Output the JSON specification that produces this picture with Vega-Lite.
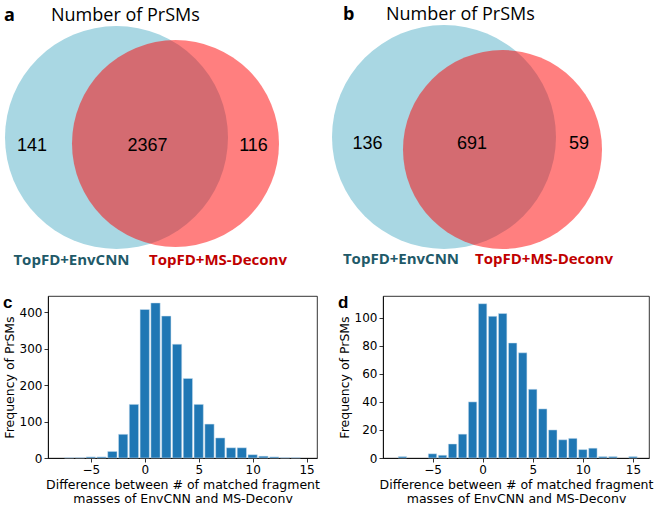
{
  "$schema": "https://vega.github.io/schema/vega-lite/v6.json",
  "padding": {"left": 2, "top": 0, "right": 0, "bottom": 0},
  "autosize": {"type": "pad"},
  "config": {
    "font": "DejaVu Sans",
    "view": {"stroke": "black", "strokeWidth": 0.8},
    "axis": {
      "labelFont": "DejaVu Sans", "labelFontSize": 12, "labelColor": "black",
      "titleFont": "DejaVu Sans", "titleFontSize": 12.5, "titleFontWeight": "normal", "titleColor": "black",
      "domainColor": "black", "domainWidth": 0.8, "tickColor": "black", "tickWidth": 0.8, "tickSize": 4,
      "labelPadding": 2, "grid": false
    }
  },
  "datasets": {
    "venn_a_sets": [
      {"set": "TopFD+EnvCNN", "x": 1.155, "y": 1.475},
      {"set": "TopFD+MS-Deconv", "x": 1.745, "y": 1.415}
    ],
    "venn_a_text": [
      {"kind": "count", "text": "141", "x": 0.31, "y": 1.39},
      {"kind": "count", "text": "2367", "x": 1.465, "y": 1.39},
      {"kind": "count", "text": "116", "x": 2.525, "y": 1.39},
      {"kind": "envcnn", "text": "TopFD+EnvCNN", "x": 0.705, "y": 0.2},
      {"kind": "msdeconv", "text": "TopFD+MS-Deconv", "x": 2.17, "y": 0.2},
      {"kind": "title", "text": "Number of PrSMs", "x": 0.5, "y": 2.64},
      {"kind": "letter", "text": "a", "x": 0.03, "y": 2.64}
    ],
    "venn_b_sets": [
      {"set": "TopFD+EnvCNN", "x": 1.16, "y": 1.48},
      {"set": "TopFD+MS-Deconv", "x": 1.745, "y": 1.355}
    ],
    "venn_b_text": [
      {"kind": "count", "text": "136", "x": 0.395, "y": 1.415},
      {"kind": "count", "text": "691", "x": 1.44, "y": 1.415},
      {"kind": "count", "text": "59", "x": 2.51, "y": 1.415},
      {"kind": "envcnn", "text": "TopFD+EnvCNN", "x": 0.73, "y": 0.21},
      {"kind": "msdeconv", "text": "TopFD+MS-Deconv", "x": 2.16, "y": 0.21},
      {"kind": "title", "text": "Number of PrSMs", "x": 0.58, "y": 2.65},
      {"kind": "letter", "text": "b", "x": 0.15, "y": 2.65}
    ],
    "hist_c": [
      {"diff": -7, "count": 1}, {"diff": -6, "count": 1}, {"diff": -5, "count": 3}, {"diff": -4, "count": 3},
      {"diff": -3, "count": 18}, {"diff": -2, "count": 65}, {"diff": -1, "count": 147}, {"diff": 0, "count": 407},
      {"diff": 1, "count": 425}, {"diff": 2, "count": 389}, {"diff": 3, "count": 312}, {"diff": 4, "count": 218},
      {"diff": 5, "count": 147}, {"diff": 6, "count": 93}, {"diff": 7, "count": 55}, {"diff": 8, "count": 28},
      {"diff": 9, "count": 28}, {"diff": 10, "count": 9}, {"diff": 11, "count": 5}, {"diff": 12, "count": 3},
      {"diff": 13, "count": 1}, {"diff": 14, "count": 1}
    ],
    "hist_d": [
      {"diff": -8, "count": 1}, {"diff": -5, "count": 3}, {"diff": -4, "count": 2}, {"diff": -3, "count": 10},
      {"diff": -2, "count": 17}, {"diff": -1, "count": 40}, {"diff": 0, "count": 110}, {"diff": 1, "count": 101},
      {"diff": 2, "count": 103}, {"diff": 3, "count": 82}, {"diff": 4, "count": 75}, {"diff": 5, "count": 49},
      {"diff": 6, "count": 35}, {"diff": 7, "count": 20}, {"diff": 8, "count": 13}, {"diff": 9, "count": 14},
      {"diff": 10, "count": 6}, {"diff": 11, "count": 7}, {"diff": 12, "count": 1}, {"diff": 13, "count": 1},
      {"diff": 15, "count": 1}
    ]
  },
  "spacing": 8,
  "vconcat": [
    {
      "spacing": 0,
      "hconcat": [
        {
          "width": 280, "height": 285, "view": {"stroke": null},
          "encoding": {
            "x": {"field": "x", "type": "quantitative", "scale": {"domain": [0.47, 3.27], "nice": false, "zero": false}, "axis": null},
            "y": {"field": "y", "type": "quantitative", "scale": {"domain": [0, 2.85], "nice": false, "zero": false}, "axis": null}
          },
          "layer": [
            {"data": {"name": "venn_a_sets"}, "transform": [{"filter": "datum.set === 'TopFD+EnvCNN'"}],
             "mark": {"type": "point", "shape": "circle", "filled": true, "size": 49729, "color": "#a9d7e3", "opacity": 1, "strokeWidth": 0}},
            {"data": {"name": "venn_a_sets"}, "transform": [{"filter": "datum.set === 'TopFD+MS-Deconv'"}],
             "mark": {"type": "point", "shape": "circle", "filled": true, "size": 42849, "color": "#ff0000", "opacity": 0.5, "strokeWidth": 0}},
            {"data": {"name": "venn_a_text"}, "transform": [{"filter": "datum.kind === 'count'"}],
             "mark": {"type": "text", "font": "Liberation Sans", "fontSize": 18, "align": "center", "baseline": "middle", "color": "black"},
             "encoding": {"text": {"field": "text"}}},
            {"data": {"name": "venn_a_text"}, "transform": [{"filter": "datum.kind === 'envcnn'"}],
             "mark": {"type": "text", "font": "Open Sans", "fontSize": 15, "fontWeight": "bold", "align": "center", "baseline": "alphabetic", "color": "#215968"},
             "encoding": {"text": {"field": "text"}}},
            {"data": {"name": "venn_a_text"}, "transform": [{"filter": "datum.kind === 'msdeconv'"}],
             "mark": {"type": "text", "font": "Open Sans", "fontSize": 15, "fontWeight": "bold", "align": "center", "baseline": "alphabetic", "color": "#c00000"},
             "encoding": {"text": {"field": "text"}}},
            {"data": {"name": "venn_a_text"}, "transform": [{"filter": "datum.kind === 'title'"}],
             "mark": {"type": "text", "font": "Open Sans", "fontSize": 18, "align": "left", "baseline": "alphabetic", "color": "black"},
             "encoding": {"text": {"field": "text"}}},
            {"data": {"name": "venn_a_text"}, "transform": [{"filter": "datum.kind === 'letter'"}],
             "mark": {"type": "text", "font": "Open Sans", "fontSize": 18, "fontWeight": "bold", "align": "left", "baseline": "alphabetic", "color": "black"},
             "encoding": {"text": {"field": "text"}}}
          ]
        },
        {
          "width": 327, "height": 285, "view": {"stroke": null},
          "encoding": {
            "x": {"field": "x", "type": "quantitative", "scale": {"domain": [0, 3.27], "nice": false, "zero": false}, "axis": null},
            "y": {"field": "y", "type": "quantitative", "scale": {"domain": [0, 2.85], "nice": false, "zero": false}, "axis": null}
          },
          "layer": [
            {"data": {"name": "venn_b_sets"}, "transform": [{"filter": "datum.set === 'TopFD+EnvCNN'"}],
             "mark": {"type": "point", "shape": "circle", "filled": true, "size": 50176, "color": "#a9d7e3", "opacity": 1, "strokeWidth": 0}},
            {"data": {"name": "venn_b_sets"}, "transform": [{"filter": "datum.set === 'TopFD+MS-Deconv'"}],
             "mark": {"type": "point", "shape": "circle", "filled": true, "size": 39601, "color": "#ff0000", "opacity": 0.5, "strokeWidth": 0}},
            {"data": {"name": "venn_b_text"}, "transform": [{"filter": "datum.kind === 'count'"}],
             "mark": {"type": "text", "font": "Liberation Sans", "fontSize": 18, "align": "center", "baseline": "middle", "color": "black"},
             "encoding": {"text": {"field": "text"}}},
            {"data": {"name": "venn_b_text"}, "transform": [{"filter": "datum.kind === 'envcnn'"}],
             "mark": {"type": "text", "font": "Open Sans", "fontSize": 15, "fontWeight": "bold", "align": "center", "baseline": "alphabetic", "color": "#215968"},
             "encoding": {"text": {"field": "text"}}},
            {"data": {"name": "venn_b_text"}, "transform": [{"filter": "datum.kind === 'msdeconv'"}],
             "mark": {"type": "text", "font": "Open Sans", "fontSize": 15, "fontWeight": "bold", "align": "center", "baseline": "alphabetic", "color": "#c00000"},
             "encoding": {"text": {"field": "text"}}},
            {"data": {"name": "venn_b_text"}, "transform": [{"filter": "datum.kind === 'title'"}],
             "mark": {"type": "text", "font": "Open Sans", "fontSize": 18, "align": "left", "baseline": "alphabetic", "color": "black"},
             "encoding": {"text": {"field": "text"}}},
            {"data": {"name": "venn_b_text"}, "transform": [{"filter": "datum.kind === 'letter'"}],
             "mark": {"type": "text", "font": "Open Sans", "fontSize": 18, "fontWeight": "bold", "align": "left", "baseline": "alphabetic", "color": "black"},
             "encoding": {"text": {"field": "text"}}}
          ]
        }
      ]
    },
    {
      "spacing": 17,
      "hconcat": [
        {
          "width": 269, "height": 162,
          "title": {"text": "c", "anchor": "start", "frame": "bounds", "font": "Liberation Sans", "fontSize": 17, "fontWeight": "bold", "color": "black", "offset": -16},
          "data": {"name": "hist_c"},
          "mark": {"type": "bar", "width": 9.3, "color": "#1f77b4", "stroke": "#d0e2f0", "strokeWidth": 0.5},
          "encoding": {
            "x": {"field": "diff", "type": "quantitative", "scale": {"domain": [-8.5, 15.5], "nice": false, "zero": false},
                  "axis": {"values": [-5, 0, 5, 10, 15], "format": "d", "titlePadding": 3,
                           "title": ["Difference between # of matched fragment", "masses of EnvCNN and MS-Deconv"]}},
            "y": {"field": "count", "type": "quantitative", "scale": {"domain": [0, 444], "nice": false},
                  "axis": {"values": [0, 100, 200, 300, 400], "title": "Frequency of PrSMs", "titlePadding": 3}}
          }
        },
        {
          "width": 266, "height": 162,
          "title": {"text": "d", "anchor": "start", "frame": "bounds", "font": "Liberation Sans", "fontSize": 17, "fontWeight": "bold", "color": "black", "offset": -16},
          "data": {"name": "hist_d"},
          "mark": {"type": "bar", "width": 8.4, "color": "#1f77b4", "stroke": "#d0e2f0", "strokeWidth": 0.5},
          "encoding": {
            "x": {"field": "diff", "type": "quantitative", "scale": {"domain": [-9.44, 16.1], "nice": false, "zero": false},
                  "axis": {"values": [-5, 0, 5, 10, 15], "format": "d", "titlePadding": 3,
                           "title": ["Difference between # of matched fragment", "masses of EnvCNN and MS-Deconv"]}},
            "y": {"field": "count", "type": "quantitative", "scale": {"domain": [0, 115.5], "nice": false},
                  "axis": {"values": [0, 20, 40, 60, 80, 100], "title": "Frequency of PrSMs", "titlePadding": 3}}
          }
        }
      ]
    }
  ]
}
